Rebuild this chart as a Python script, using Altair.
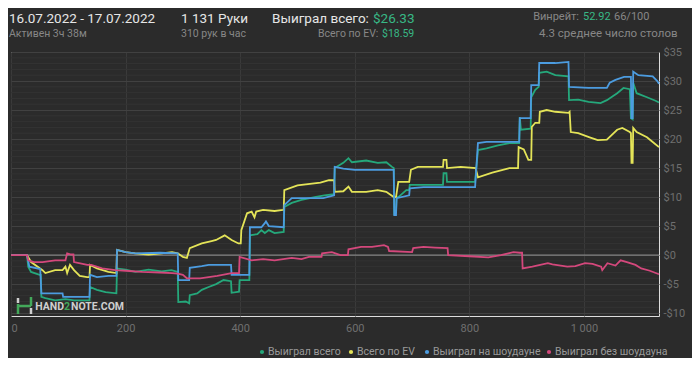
import altair as alt
import pandas as pd

# ---------------- data ----------------
SERIES = ["Выиграл всего", "Всего по EV", "Выиграл на шоудауне", "Выиграл без шоудауна"]
COLORS = ["#25a87b", "#e4e458", "#4c9ce0", "#d4487c"]

total_hands = [0, 28, 30, 35, 50, 52, 53, 60, 77, 95, 110, 137, 138, 150, 165, 184, 185, 200, 217, 240, 263, 280, 291,
               292, 305, 311, 312, 325, 333, 345, 358, 371, 384, 385, 398, 399, 416, 417, 430, 437, 443, 450, 460, 476,
               477, 490, 507, 530, 547, 564, 565, 580, 589, 595, 620, 640, 655, 665, 668, 669, 672, 673, 676, 690, 695,
               696, 754, 755, 760, 761, 810, 815, 830, 850, 870, 887, 888, 890, 907, 908, 915, 921, 922, 935, 950, 973,
               974, 990, 1008, 1029, 1040, 1058, 1069, 1080, 1082, 1085, 1086, 1092, 1110, 1125, 1131]
total_vals = [0, 0, -2.0, -2.9, -3.4, -3.4, -7.2, -7.4, -7.8, -7.6, -7.8, -7.8, -5.5, -6.0, -6.4, -6.6, -2.3, -2.5, -2.9,
              -2.5, -2.8, -2.6, -2.9, -8.1, -8.0, -8.3, -6.9, -6.6, -6.0, -5.5, -5.0, -4.3, -4.5, -6.5, -6.3, -4.3, -4.3,
              3.4, 3.6, 4.3, 3.8, 4.3, 3.8, 4.0, 8.3, 9.0, 9.5, 10.0, 10.3, 10.5, 15.0, 15.9, 16.7, 16.0, 16.3, 15.9,
              16.0, 15.2, 15.0, 7.2, 7.5, 10.0, 10.0, 11.2, 11.2, 12.1, 12.1, 14.1, 14.1, 12.6, 12.6, 18.1, 18.4, 18.9,
              19.3, 19.3, 23.8, 21.6, 21.8, 27.2, 28.5, 29.0, 31.4, 31.6, 31.0, 30.8, 26.7, 26.8, 26.4, 26.2, 26.7,
              27.9, 28.8, 28.6, 23.6, 23.4, 29.7, 27.9, 27.2, 26.6, 26.3]

ev_hands = [0, 28, 35, 55, 60, 77, 90, 95, 98, 103, 110, 120, 133, 137, 138, 150, 170, 184, 185, 200, 217, 240, 263, 281,
            291, 300, 307, 312, 333, 350, 358, 373, 385, 397, 401, 402, 412, 420, 425, 428, 440, 460, 476, 477, 500, 540,
            555, 564, 565, 580, 589, 595, 620, 640, 655, 668, 672, 676, 695, 698, 710, 740, 754, 755, 760, 761, 785, 811,
            815, 840, 870, 885, 886, 895, 903, 908, 909, 915, 922, 923, 935, 950, 973, 975, 977, 990, 1010, 1024, 1040,
            1058, 1067, 1080, 1082, 1083, 1085, 1086, 1092, 1110, 1120, 1131]
ev_vals = [0, 0, -1.2, -2.6, -3.1, -2.6, -2.6, -2.0, -3.1, -1.7, -2.6, -3.6, -3.8, -3.8, -1.7, -2.3, -2.9, -3.1, 0.9, 0.5,
           0.3, 0.1, 0.3, 0.5, 0.3, -0.3, -0.5, 1.2, 2.0, 2.4, 2.6, 3.4, 2.6, 2.0, 2.0, 4.3, 7.2, 7.5, 6.5, 7.5, 7.8, 7.6,
           7.8, 11.2, 12.0, 12.5, 12.9, 12.9, 10.9, 11.0, 11.8, 10.9, 10.9, 11.2, 10.9, 10.0, 10.0, 12.6, 12.6, 14.7,
           15.2, 15.2, 15.2, 16.4, 16.4, 15.0, 15.2, 15.0, 13.4, 14.2, 15.0, 15.0, 18.6, 18.2, 16.4, 16.4, 22.1, 22.8,
           22.8, 24.7, 25.0, 24.7, 24.5, 24.7, 21.2, 21.0, 20.3, 19.8, 19.9, 21.6, 21.9, 21.2, 21.0, 15.9, 15.9, 21.9,
           21.2, 20.3, 19.5, 18.6]

sd_hands = [0, 28, 32, 51, 53, 90, 91, 137, 138, 150, 170, 184, 185, 200, 217, 260, 291, 292, 311, 312, 333, 345, 384,
            385, 416, 417, 437, 443, 445, 450, 476, 477, 490, 545, 564, 565, 580, 600, 668, 669, 672, 673, 695, 696, 720,
            810, 815, 830, 887, 888, 907, 908, 921, 922, 950, 973, 974, 1008, 1040, 1045, 1055, 1070, 1082, 1083, 1085,
            1086, 1095, 1120, 1128, 1131]
sd_vals = [0, 0, -2.0, -2.4, -6.6, -6.6, -7.2, -7.2, -3.4, -3.8, -3.6, -3.6, 0.9, 0.5, 0.3, 0.4, 0.3, -4.3, -4.3, -2.2,
           -1.9, -1.7, -1.7, -3.4, -3.4, 4.8, 4.8, 5.5, 5.8, 5.0, 4.8, 8.6, 9.8, 9.8, 10.3, 15.2, 14.9, 14.7, 14.7, 6.9,
           6.9, 9.8, 10.3, 11.5, 11.7, 11.7, 19.3, 19.5, 19.5, 23.6, 23.6, 29.3, 29.3, 33.1, 33.1, 33.3, 29.0, 28.8, 28.8,
           29.7, 30.2, 30.7, 30.7, 23.6, 23.6, 31.6, 31.0, 30.8, 30.0, 29.5]

nsd_hands = [0, 28, 30, 40, 55, 77, 95, 98, 105, 109, 110, 125, 133, 140, 159, 182, 200, 229, 260, 281, 291, 300, 307,
             330, 360, 385, 398, 399, 420, 440, 460, 490, 507, 520, 542, 543, 560, 575, 588, 589, 611, 630, 651, 658, 660,
             700, 702, 720, 740, 762, 763, 800, 833, 855, 868, 877, 888, 892, 893, 910, 937, 945, 971, 985, 1002, 1015,
             1030, 1032, 1041, 1055, 1064, 1075, 1090, 1100, 1115, 1131]
nsd_vals = [0, 0, -0.9, -1.2, -1.2, -0.9, -0.9, 0.3, 0.1, 0.1, -1.2, -1.5, -1.7, -1.7, -2.3, -2.6, -2.7, -2.9, -3.0, -3.1,
            -3.2, -3.4, -4.0, -4.0, -3.6, -3.1, -3.1, -0.3, -0.9, -0.7, -0.9, -0.5, -0.7, -0.3, -0.3, 0.3, 0.5, 0.0, 0.0,
            1.0, 1.4, 1.4, 1.7, 1.4, 0.7, 0.5, 1.2, 1.4, 1.3, 1.2, 0.0, -0.2, -0.4, 0.0, 0.3, 0.5, 0.4, 0.4, -2.3, -2.0,
            -1.4, -1.6, -2.0, -1.9, -1.4, -1.5, -2.0, -2.6, -1.4, -1.8, -0.9, -1.2, -1.7, -2.3, -2.7, -3.3]

x_ticks = [0, 200, 400, 600, 800, 1000]
y_ticks = [-10, -5, 0, 5, 10, 15, 20, 25, 30, 35]
minor_grid = [v for v in range(-10, 36) if v % 5 != 0]
zero_line = [0]

rows = []
for name, hs, vs in zip(SERIES, [total_hands, ev_hands, sd_hands, nsd_hands],
                        [total_vals, ev_vals, sd_vals, nsd_vals]):
    for h, v in zip(hs, vs):
        rows.append({"series": name, "hand": h, "value": v})
df = pd.DataFrame(rows)

# ---------------- chart ----------------
BG = "#2b2b2b"
FONT = "Roboto"
XS = alt.Scale(domain=[0, 1131], nice=False, zero=False)
YS = alt.Scale(domain=[-10.5, 35], nice=False, zero=False)

Y_AXIS = alt.Axis(
    orient="right", values=y_ticks, title=None, grid=True, gridColor="#414141", domain=False, ticks=False,
    labelColor="#6f6f6f", labelFontSize=11, labelFont=FONT, labelPadding=4,
    labelExpr="datum.value < 0 ? '-$' + abs(datum.value) : '$' + datum.value")

minor = alt.Chart(pd.DataFrame({"value": minor_grid})).mark_rule(color="#333333", strokeWidth=1).encode(
    y=alt.Y("value:Q", scale=YS, axis=Y_AXIS))

zero = alt.Chart(pd.DataFrame({"value": zero_line})).mark_rule(color="#949494", strokeWidth=1).encode(
    y=alt.Y("value:Q", scale=YS, axis=Y_AXIS))

lines = alt.Chart(df).mark_line(strokeWidth=1.8).encode(
    x=alt.X("hand:Q", scale=XS, axis=alt.Axis(
        values=x_ticks, title=None, grid=True, gridColor="#3a3a3a", domain=False, ticks=False,
        labelColor="#6f6f6f", labelFontSize=11, labelFont=FONT, labelPadding=6,
        labelExpr="replace(format(datum.value, ','), ',', ' ')")),
    y=alt.Y("value:Q", scale=YS, axis=Y_AXIS),
    color=alt.Color("series:N", scale=alt.Scale(domain=SERIES, range=COLORS), legend=None),
)


def label(text, x, y, color, size, weight="normal", align="left", baseline="alphabetic"):
    return alt.Chart(pd.DataFrame({"t": [text]})).mark_text(
        align=align, baseline=baseline, x=x, y=y, color=color, fontSize=size,
        font=FONT, fontWeight=weight).encode(text="t:N")


WHITE = "#e6e6e6"
GRAY = "#878787"
GREEN = "#38b886"

texts = [
    label("16.07.2022 - 17.07.2022", -2, -29, WHITE, 13.5),
    label("1 131 Руки", 170, -29, WHITE, 13.5),
    label("Выиграл всего:", 261, -29, WHITE, 13.5),
    label("$26.33", 362, -29, GREEN, 13.5),
    label("Активен 3ч 38м", -2, -15, GRAY, 10.5),
    label("310 рук в час", 170, -15, GRAY, 10.5),
    label("Всего по EV:", 307, -15, GRAY, 10.5),
    label("$18.59", 371, -15, GREEN, 10.5),
    label("Винрейт:", 568, -32, GRAY, 11, align="right"),
    label("52.92", 572, -32, GREEN, 11),
    label("66/100", 603, -32, GRAY, 11),
    label("4.3 среднее число столов", 528, -15, GRAY, 11.5),
    label("HAND", 53, 258, "#cfcfcf", 10.5, "bold", align="right"),
    label("2", 53, 258, "#43a85a", 10.5, "bold"),
    label("NOTE.COM", 60, 258, "#cfcfcf", 10.5, "bold"),
]

# legend (drawn by hand to match the compact layout of the reference)
LEG_X = [251, 340, 416, 538]
legend = []
for name, col, lx in zip(SERIES, COLORS, LEG_X):
    legend.append(alt.Chart(pd.DataFrame({"k": [name]})).mark_circle(size=18, color=col, opacity=1).encode(
        x=alt.value(lx), y=alt.value(300)))
    legend.append(label(name, lx + 6, 300, "#9a9a9a", 10.5, baseline="middle"))


def seg(x1, y1, x2, y2, color):
    return alt.Chart(pd.DataFrame({"k": [0]})).mark_rule(color=color, strokeWidth=2.5).encode(
        x=alt.value(x1), x2=alt.value(x2), y=alt.value(y1), y2=alt.value(y2))


logo = [
    seg(7, 246, 7, 251, "#cfcfcf"),
    seg(7, 252, 7, 262, "#43a85a"),
    seg(7, 254, 20, 254, "#43a85a"),
    seg(20, 245, 20, 254, "#43a85a"),
    seg(20, 256, 20, 262, "#cfcfcf"),
]

chart = alt.layer(minor, zero, lines, *texts, *legend, *logo).properties(
    width=648, height=264,
    autosize=alt.AutoSizeParams(type="none"),
    padding={"left": 3, "top": 44, "right": 33, "bottom": 42},
    background=BG,
).configure_view(stroke=None).configure(font=FONT)

chart.save("out.html", embed_options={"renderer": "svg", "actions": False})
